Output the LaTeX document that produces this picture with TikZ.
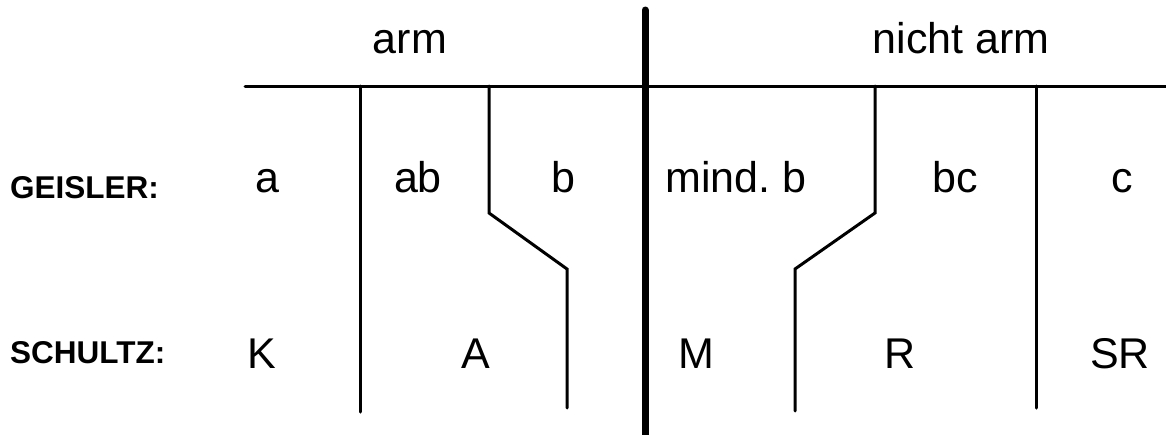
\documentclass[tikz,border=0pt]{standalone}
\usepackage{fontspec}
\setmainfont{Liberation Sans}
\frenchspacing
\begin{document}
\begin{tikzpicture}[x=1pt,y=-1pt,
  lbl/.style={anchor=base,inner sep=0pt,font=\fontsize{43}{50}\selectfont},
  rowlbl/.style={anchor=base west,inner sep=0pt,font=\fontsize{31.5}{36}\selectfont\bfseries},
  thin/.style={line width=3pt,line cap=round,line join=miter},
  thick/.style={line width=7pt,line cap=round}]
\useasboundingbox (0,0) rectangle (1166,434);
% header labels
\node[lbl] (arm) at (410,53) {arm};
\node[lbl] (nichtarm) at (961,53) {nicht arm};
% row labels
\node[rowlbl] (geisler) at (10,198) {GEISLER:};
\node[rowlbl] (schultz) at (10,363) {SCHULTZ:};
% Geisler row
\node[lbl] (ga) at (267,192) {a};
\node[lbl] (gab) at (418,192) {ab};
\node[lbl] (gb) at (563,192) {b};
\node[lbl] (gmb) at (736,192) {mind.\ b};
\node[lbl] (gbc) at (955,192) {bc};
\node[lbl] (gc) at (1122,192) {c};
% Schultz row
\node[lbl] (sk) at (262,368) {K};
\node[lbl] (sa) at (476,368) {A};
\node[lbl] (sm) at (696,368) {M};
\node[lbl] (sr) at (900,368) {R};
\node[lbl] (ssr) at (1120,368) {SR};
% lines
\draw[thin] (245,86) -- (1166,86);
\draw[thin] (360,86) -- (360,412);
\draw[thin] (489,86) -- (489,213) -- (567,269) -- (567,408);
\draw[thin] (875,86) -- (875,213) -- (795,269) -- (795,411);
\draw[thin] (1036,86) -- (1036,408);
\draw[thick] (645,10) -- (645,440);
\end{tikzpicture}
\end{document}
